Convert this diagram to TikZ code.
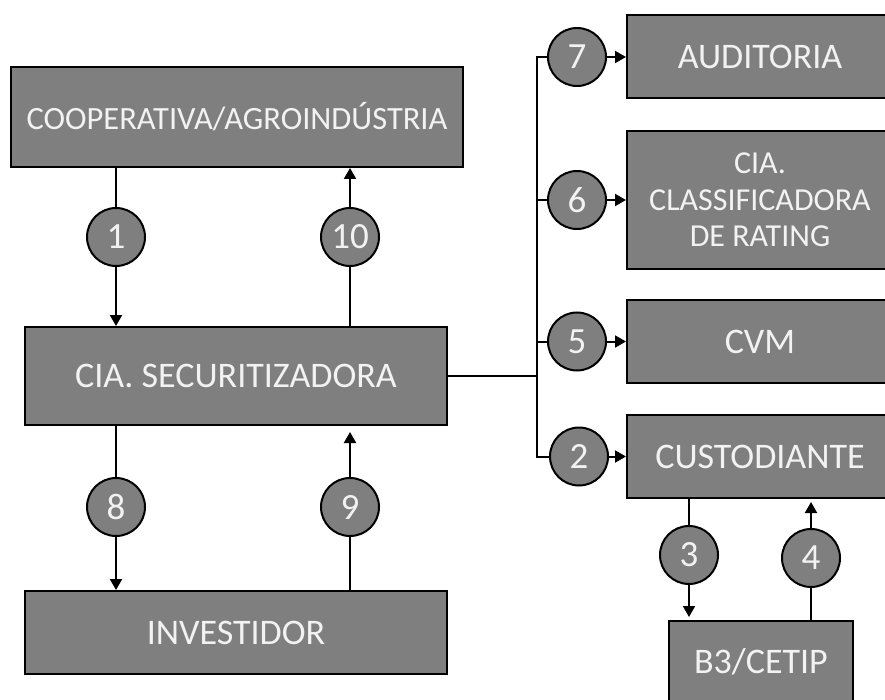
\documentclass[tikz,border=0pt]{standalone}
\usepackage{fontspec}
\setmainfont{Carlito}
\usetikzlibrary{arrows.meta}
\definecolor{boxgray}{HTML}{7F7F7F}
\definecolor{txtwhite}{HTML}{F2F2F2}
\begin{document}
\begin{tikzpicture}[x=1pt,y=-1pt,
  box/.style={draw=black, line width=2pt, fill=boxgray, text=txtwhite, inner sep=0pt, font=\fontsize{36}{37}\selectfont},
  num/.style={circle, draw=black, line width=2pt, fill=boxgray, text=txtwhite, minimum size=58pt, inner sep=0pt, font=\fontsize{37}{38}\selectfont},
  conn/.style={line width=2pt},
  arr/.style={line width=2pt, -{Triangle[length=11pt,width=12pt]}}]
\useasboundingbox (0,0) rectangle (885,700);
\clip (0,0) rectangle (885,700);
% boxes
\node[box, minimum width=452pt, minimum height=100pt, font=\fontsize{32.5}{34}\selectfont] (coop) at (237,117) {COOPERATIVA/AGROINDÚSTRIA};
\node[box, minimum width=422pt, minimum height=98pt] (sec) at (236,376) {CIA. SECURITIZADORA};
\node[box, minimum width=422pt, minimum height=83pt] (inv) at (236,632.5) {INVESTIDOR};
\node[box, minimum width=266pt, minimum height=83pt] (aud) at (760,56.5) {AUDITORIA};
\node[box, minimum width=266pt, minimum height=138pt, align=center, font=\fontsize{32}{36.5}\selectfont] (cls) at (760,200) {CIA.\\CLASSIFICADORA\\DE RATING};
\node[box, minimum width=266pt, minimum height=83pt] (cvm) at (760,341.5) {CVM};
\node[box, minimum width=266pt, minimum height=83pt] (cust) at (760,456.5) {CUSTODIANTE};
\node[box, minimum width=184pt, minimum height=82pt] (b3) at (761,662) {B3/CETIP};
% numbered circles
\node[num] (n1) at (116,237) {1};
\node[num] (n10) at (350,237) {10};
\node[num] (n8) at (116,507) {8};
\node[num] (n9) at (350,507) {9};
\node[num] (n7) at (577,57) {7};
\node[num] (n6) at (577,200) {6};
\node[num] (n5) at (577,341.5) {5};
\node[num] (n2) at (579,456.5) {2};
\node[num] (n3) at (689,555) {3};
\node[num] (n4) at (811,558) {4};
% trunk coordinates
\coordinate (tj) at (537,376);
\coordinate (t7) at (537,57);
\coordinate (t6) at (537,200);
\coordinate (t5) at (537,341.5);
\coordinate (t2) at (537,456.5);
% left connectors
\draw[conn] (coop.south -| n1) -- (n1);
\draw[arr] (n1) -- (sec.north -| n1);
\draw[conn] (sec.north -| n10) -- (n10);
\draw[arr] (n10) -- (coop.south -| n10);
\draw[conn] (sec.south -| n8) -- (n8);
\draw[arr] (n8) -- (inv.north -| n8);
\draw[conn] (inv.north -| n9) -- (n9);
\draw[arr, shorten >=6pt] (n9) -- (sec.south -| n9);
% right connectors
\draw[conn] (sec.east |- tj) -- (tj);
\draw[conn, line cap=rect] (t7) -- (t2);
\draw[conn] (t7) -- (n7);
\draw[arr] (n7) -- (aud.west |- n7);
\draw[conn] (t6) -- (n6);
\draw[arr] (n6) -- (cls.west |- n6);
\draw[conn] (t5) -- (n5);
\draw[arr] (n5) -- (cvm.west |- n5);
\draw[conn] (t2) -- (n2);
\draw[arr] (n2) -- (cust.west |- n2);
\draw[conn] (cust.south -| n3) -- (n3);
\draw[arr, shorten >=3pt] (n3) -- (b3.north -| n3);
\draw[conn] (b3.north -| n4) -- (n4);
\draw[arr, shorten >=3pt] (n4) -- (cust.south -| n4);
\end{tikzpicture}
\end{document}
